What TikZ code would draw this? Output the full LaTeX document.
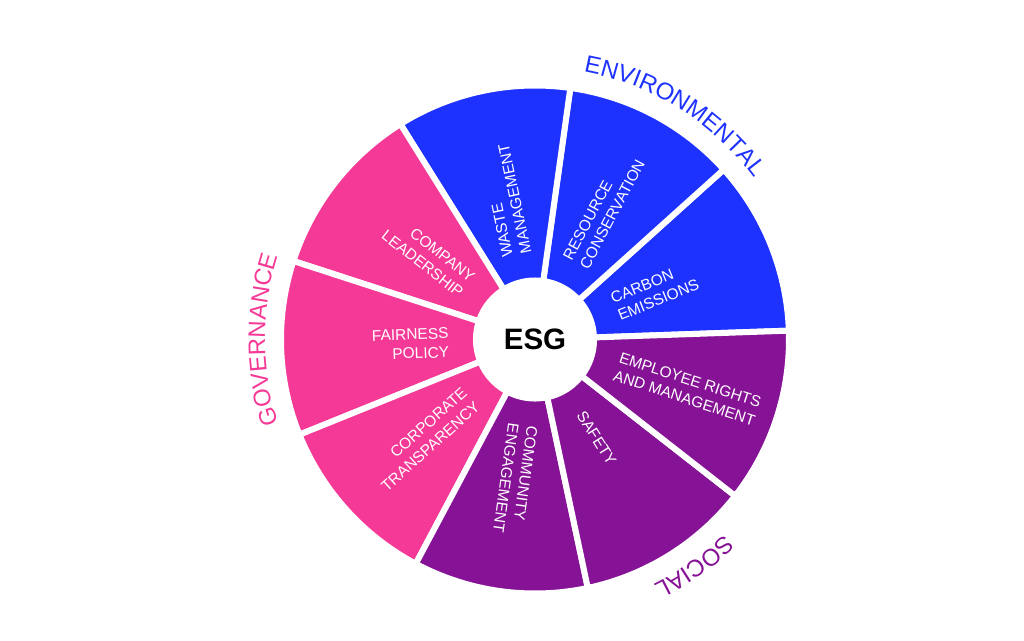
\documentclass[tikz,border=0pt]{standalone}
\usepackage{fontspec}
\setmainfont{Liberation Sans}
\usetikzlibrary{decorations.text}
\definecolor{envBlue}{RGB}{30,50,255}
\definecolor{socPurple}{RGB}{134,18,150}
\definecolor{govPink}{RGB}{245,57,150}
\newcommand{\curvefont}{\fontsize{17}{20}\selectfont}
\tikzset{
  esg/env/.style={fill=envBlue, draw=white, line width=1.5mm},
  esg/soc/.style={fill=socPurple, draw=white, line width=1.5mm},
  esg/gov/.style={fill=govPink, draw=white, line width=1.5mm},
  esg/outward/.style={anchor=west, align=left, text=white, inner sep=0pt,
    font=\fontsize{11}{13.5}\selectfont},
  esg/inward/.style={anchor=east, align=right, text=white, inner sep=0pt,
    font=\fontsize{11}{13.5}\selectfont},
  esg/hub/.style={circle, fill=white, minimum size=31mm, inner sep=0pt,
    font=\fontsize{21}{24}\selectfont\bfseries}
}

\begin{document}
\begin{tikzpicture}[x=0.025cm, y=0.025cm]
  \useasboundingbox (-535,-300.5) rectangle (489,339.5);

  % Sectores: ambiental
  \path[esg/env] (0,0) -- (2:254)   arc[start angle=2,   end angle=42,  radius=254] -- cycle;
  \path[esg/env] (0,0) -- (42:254)  arc[start angle=42,  end angle=82,  radius=254] -- cycle;
  \path[esg/env] (0,0) -- (82:254)  arc[start angle=82,  end angle=122, radius=254] -- cycle;
  % Sectores: gobernanza
  \path[esg/gov] (0,0) -- (122:254) arc[start angle=122, end angle=162, radius=254] -- cycle;
  \path[esg/gov] (0,0) -- (162:254) arc[start angle=162, end angle=202, radius=254] -- cycle;
  \path[esg/gov] (0,0) -- (202:254) arc[start angle=202, end angle=242, radius=254] -- cycle;
  % Sectores: social
  \path[esg/soc] (0,0) -- (242:254) arc[start angle=242, end angle=282, radius=254] -- cycle;
  \path[esg/soc] (0,0) -- (282:254) arc[start angle=282, end angle=322, radius=254] -- cycle;
  \path[esg/soc] (0,0) -- (322:254) arc[start angle=322, end angle=362, radius=254] -- cycle;

  % Centro
  \node[esg/hub] (hub) at (0,0) {ESG};

  % Etiquetas de sectores
  \node[esg/outward, rotate=22]  (carbon)    at (22:86)  {CARBON\\EMISSIONS};
  \node[esg/outward, rotate=62]  (resource)  at (62:86)  {RESOURCE\\CONSERVATION};
  \node[esg/outward, rotate=102] (waste)     at (102:86) {WASTE\\MANAGEMENT};
  \node[esg/inward,  rotate=-38] (company)   at (142:86) {COMPANY\\LEADERSHIP};
  \node[esg/inward,  rotate=2]   (fairness)  at (182:86) {FAIRNESS\\POLICY};
  \node[esg/inward,  rotate=42]  (corporate) at (222:86) {CORPORATE\\TRANSPARENCY};
  \node[esg/outward, rotate=-98] (community) at (-98:86) {COMMUNITY\\ENGAGEMENT};
  \node[esg/outward, rotate=-58] (safety)    at (-58:86) {SAFETY};
  \node[esg/outward, rotate=-18] (employee)  at (-18:86) {EMPLOYEE RIGHTS\\AND MANAGEMENT};

  % Titulos curvos de cada grupo
  \path[decorate, decoration={text along path, text align=center,
      text={|\curvefont\color{envBlue}|ENVIRONMENTAL}}]
    (98:272) arc[start angle=98, end angle=18, radius=272];
  \path[decorate, decoration={text along path, text align=center,
      text={|\curvefont\color{govPink}|GOVERNANCE}}]
    (220:270) arc[start angle=220, end angle=140, radius=270];
  \path[decorate, decoration={text along path, text align=center,
      text={|\curvefont\color{socPurple}|SOCIAL}}]
    (-15:272) arc[start angle=-15, end angle=-95, radius=272];
\end{tikzpicture}
\end{document}
